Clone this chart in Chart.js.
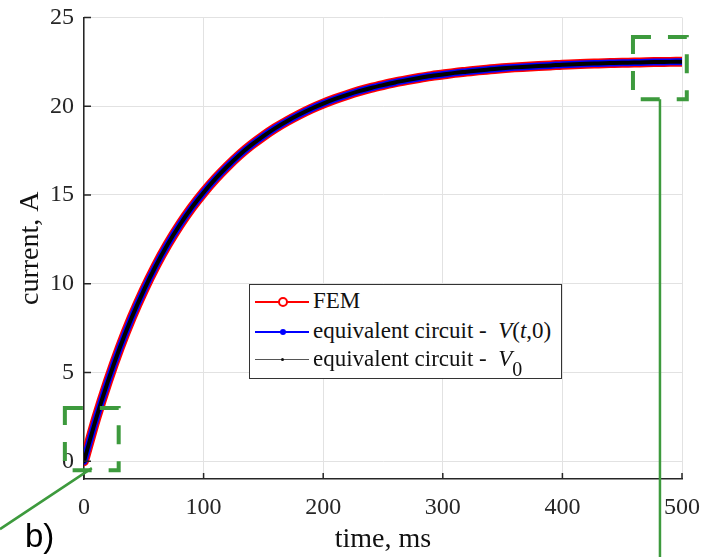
<!DOCTYPE html>
<html>
<head>
<meta charset="utf-8">
<script src="https://cdn.jsdelivr.net/npm/chart.js@4/dist/chart.umd.min.js"></script>
<style>
  html, body { margin: 0; padding: 0; background: #fff; }
  #wrap { position: relative; width: 702px; height: 557px; }
  #c { position: absolute; left: 0; top: 0; }
  #legend {
    position: absolute; left: 249px; top: 284px; width: 311px; height: 93px;
    border: 1.5px solid #333; background: #fff;
    font-family: "Liberation Serif", "Times New Roman", serif; font-size: 23px; color: #111;
  }
  .row { position: absolute; left: 0; height: 28px; width: 100%; }
  .sample { position: absolute; left: 5px; width: 54px; top: 14px; }
  .txt { position: absolute; left: 63px; top: 0px; white-space: nowrap; line-height: 28px; }
  .mk { position: absolute; border-radius: 50%; }
  i { font-style: italic; }
</style>
</head>
<body>
<div id="wrap">
  <canvas id="c" width="702" height="557"></canvas>
  <div id="legend">
    <div class="row" style="top:2px">
      <div class="sample" style="border-top:2px solid #ff0000"></div>
      <div class="mk" style="left:28px;top:10px;width:6px;height:6px;border:2px solid #ff0000;background:#fff"></div>
      <div class="txt">FEM</div>
    </div>
    <div class="row" style="top:32px">
      <div class="sample" style="border-top:2px solid #0000ff"></div>
      <div class="mk" style="left:30px;top:12px;width:6px;height:6px;background:#0000ff"></div>
      <div class="txt">equivalent circuit -&nbsp;&nbsp;<i>V</i>(<i>t</i>,0)</div>
    </div>
    <div class="row" style="top:60px">
      <div class="sample" style="border-top:1.5px solid #555"></div>
      <div class="mk" style="left:31px;top:13px;width:3px;height:3px;background:#111"></div>
      <div class="txt">equivalent circuit -&nbsp;&nbsp;<i>V</i><sub style="font-size:20px;position:relative;top:4px">0</sub></div>
    </div>
  </div>
</div>
<script>
// ---- data ----
const timeMs = [0,10,20,30,40,50,60,70,80,90,100,110,120,130,140,150,160,170,180,190,200,
  210,220,230,240,250,260,270,280,290,300,310,320,330,340,350,360,370,380,390,400,
  410,420,430,440,450,460,470,480,490,500];
const femCurrent = [0,2.38,4.50,6.41,8.11,9.63,11.00,12.22,13.31,14.28,15.14,15.92,16.62,17.26,17.82,18.32,18.77,19.17,19.53,19.86,20.15,
  20.41,20.64,20.85,21.03,21.19,21.34,21.47,21.59,21.70,21.79,21.88,21.95,22.02,22.08,22.14,22.19,22.23,22.27,22.30,22.34,
  22.36,22.39,22.41,22.43,22.45,22.46,22.48,22.49,22.50,22.51];
const circuitVt0Current = [0,2.38,4.50,6.41,8.11,9.63,11.00,12.22,13.31,14.28,15.14,15.92,16.62,17.26,17.82,18.32,18.77,19.17,19.53,19.86,20.15,
  20.41,20.64,20.85,21.03,21.19,21.34,21.47,21.59,21.70,21.79,21.88,21.95,22.02,22.08,22.14,22.19,22.23,22.27,22.30,22.34,
  22.36,22.39,22.41,22.43,22.45,22.46,22.48,22.49,22.50,22.51];
const circuitV0Current = [0,2.38,4.50,6.41,8.11,9.63,11.00,12.22,13.31,14.28,15.14,15.92,16.62,17.26,17.82,18.32,18.77,19.17,19.53,19.86,20.15,
  20.41,20.64,20.85,21.03,21.19,21.34,21.47,21.59,21.70,21.79,21.88,21.95,22.02,22.08,22.14,22.19,22.23,22.27,22.30,22.34,
  22.36,22.39,22.41,22.43,22.45,22.46,22.48,22.49,22.50,22.51];
const xTicks = [0,100,200,300,400,500];
const yTicks = [0,5,10,15,20,25];
const seriesLabels = ["FEM", "equivalent circuit - V(t,0)", "equivalent circuit - V0"];
// zoom boxes (data coordinates): [xMin, xMax, yMin, yMax]
const zoomBoxes = [[-16, 29, -0.5, 3.0], [459, 504, 20.4, 23.9]];

const pts = arr => timeMs.map((t, i) => ({x: t, y: arr[i]}));
const serif = '"Liberation Serif", "Times New Roman", serif';
const axisColor = '#262626';

const inwardTicks = {
  id: 'inwardTicks',
  afterDraw(chart) {
    const {ctx, scales: {x, y}, chartArea: a} = chart;
    ctx.save();
    ctx.strokeStyle = axisColor; ctx.lineWidth = 1.5;
    ctx.beginPath();
    xTicks.forEach(v => { const px = x.getPixelForValue(v); ctx.moveTo(px, a.bottom); ctx.lineTo(px, a.bottom - 6); });
    yTicks.forEach(v => { const py = y.getPixelForValue(v); ctx.moveTo(a.left, py); ctx.lineTo(a.left + 7, py); });
    ctx.stroke();
    ctx.restore();
  }
};

const annotations = {
  id: 'annotations',
  afterDraw(chart) {
    const {ctx, scales: {x, y}} = chart;
    ctx.save();
    ctx.strokeStyle = '#3d9a3d';
    ctx.lineWidth = 4;
    ctx.setLineDash([19, 17]);
    ctx.lineDashOffset = 1;
    const rects = zoomBoxes.map(b => {
      const l = x.getPixelForValue(b[0]), r = x.getPixelForValue(b[1]);
      const t = y.getPixelForValue(b[3]), bt = y.getPixelForValue(b[2]);
      ctx.strokeRect(l, t, r - l, bt - t);
      return {l, r, t, b: bt};
    });
    ctx.setLineDash([]);
    ctx.lineWidth = 2.5;
    ctx.beginPath();
    const r1 = rects[0];
    ctx.moveTo(r1.l + 27, r1.b - 2);
    ctx.lineTo(0, r1.b + 59);
    const r2 = rects[1];
    ctx.moveTo(r2.l + 27, r2.b);
    ctx.lineTo(r2.l + 27, chart.height);
    ctx.stroke();
    ctx.fillStyle = '#000';
    ctx.font = '33px "Liberation Sans", Arial, sans-serif';
    ctx.textBaseline = 'alphabetic';
    ctx.fillText('b)', 25, 547);
    ctx.restore();
  }
};

new Chart(document.getElementById('c'), {
  type: 'line',
  data: {
    datasets: [
      { label: seriesLabels[0], data: pts(femCurrent), borderColor: '#ff0000', backgroundColor: '#ff0000',
        borderWidth: 10, pointRadius: 0, borderCapStyle: 'round', borderJoinStyle: 'round', order: 3, cubicInterpolationMode: 'monotone' },
      { label: seriesLabels[1], data: pts(circuitVt0Current), borderColor: '#0000ff', backgroundColor: '#0000ff',
        borderWidth: 7, pointRadius: 0, borderCapStyle: 'round', borderJoinStyle: 'round', order: 2, cubicInterpolationMode: 'monotone' },
      { label: seriesLabels[2], data: pts(circuitV0Current), borderColor: '#000000', backgroundColor: '#000000',
        borderWidth: 4, pointRadius: 0, borderCapStyle: 'round', borderJoinStyle: 'round', order: 1, cubicInterpolationMode: 'monotone' }
    ]
  },
  options: {
    responsive: false,
    animation: false,
    events: [],
    layout: { padding: { left: 0, right: 20, top: 17.5, bottom: 0 } },
    plugins: { legend: { display: false }, tooltip: { enabled: false } },
    scales: {
      x: {
        type: 'linear', min: 0, max: 500,
        afterBuildTicks: s => { s.ticks = xTicks.map(v => ({value: v})); },
        afterFit: s => { s.height = 78; s.paddingLeft = 0; s.paddingRight = 0; },
        grid: { color: '#e2e2e2', lineWidth: 1, drawTicks: false },
        border: { color: axisColor, width: 1.5 },
        ticks: { font: { family: serif, size: 24 }, color: axisColor, padding: 14, maxRotation: 0 },
        title: { display: true, text: 'time, ms', font: { family: serif, size: 28 }, color: '#111', padding: { top: 0, bottom: 1 } }
      },
      y: {
        type: 'linear', min: -1, max: 25,
        afterBuildTicks: s => { s.ticks = yTicks.map(v => ({value: v})); },
        afterFit: s => { s.width = 84; s.paddingTop = 0; s.paddingBottom = 0; },
        grid: { color: '#e2e2e2', lineWidth: 1, drawTicks: false },
        border: { color: axisColor, width: 1.5 },
        ticks: { font: { family: serif, size: 24 }, color: axisColor, padding: 10 },
        title: { display: true, text: 'current, A', font: { family: serif, size: 28 }, color: '#111', padding: { top: 14, bottom: 0 } }
      }
    }
  },
  plugins: [inwardTicks, annotations]
});
</script>
</body>
</html>
